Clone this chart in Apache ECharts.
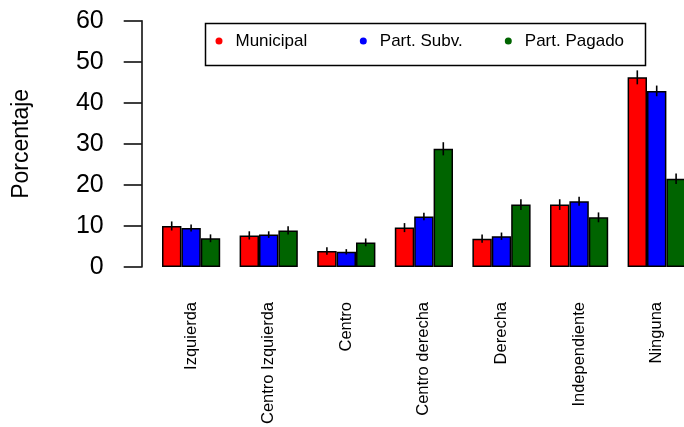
<!DOCTYPE html>
<html>
<head>
<meta charset="utf-8">
<script src="https://cdn.jsdelivr.net/npm/echarts@6/dist/echarts.min.js"></script>
<style>
  html, body { margin: 0; padding: 0; background: #fff; overflow: hidden; }
  /* wider than the window: the last bar is cut off at the right edge, as in the original */
  #chart { width: 700px; height: 427px; }
</style>
</head>
<body>
<div id="chart"></div>
<script>
// categories and values (percent)
var categories = ['Izquierda', 'Centro Izquierda', 'Centro', 'Centro derecha', 'Derecha', 'Independiente', 'Ninguna'];
var municipal = [10.0, 7.7, 3.9, 9.6, 6.9, 15.2, 46.2];
var partSubv = [9.5, 7.9, 3.7, 12.3, 7.5, 16.0, 42.9];
var partPagado = [7.0, 8.9, 6.0, 28.8, 15.2, 12.1, 21.5];
// half-length of the error bars
var errMunicipal = [1.1, 1.0, 0.9, 1.1, 1.0, 1.3, 1.7];
var errSubv = [0.85, 0.8, 0.65, 0.9, 0.9, 1.1, 1.3];
var errPagado = [0.95, 1.0, 0.95, 1.6, 1.3, 1.2, 1.3];
var yTicks = [0, 10, 20, 30, 40, 50, 60];

var FONT = 'Liberation Sans, Arial, Helvetica, sans-serif';
var names = ['Municipal', 'Part. Subv.', 'Part. Pagado'];
var colors = ['#ff0000', '#0000ff', '#006400'];
var legendLeft = [215.5, 359.8, 504.8];

function errData(vals, errs) {
  return vals.map(function (v, i) { return [i, v, errs[i]]; });
}
// draws one vertical error line, shifted to sit on its bar inside the group
function errRenderer(shift) {
  return function (params, api) {
    var idx = api.value(0), v = api.value(1), e = api.value(2);
    var c = api.coord([idx, v]);
    var band = api.size([1, 0])[0];
    var x = c[0] + shift * band * 0.25;
    var hi = api.coord([idx, v + e]);
    var lo = api.coord([idx, v - e]);
    return {
      type: 'line',
      shape: { x1: x, y1: hi[1], x2: x, y2: lo[1] },
      style: { stroke: '#000', lineWidth: 1.6 }
    };
  };
}

var chart = echarts.init(document.getElementById('chart'));
var barStyle = function (i) {
  return { color: colors[i], borderColor: '#000', borderWidth: 1.5 };
};

// one legend per entry so each sits where the original puts it
var legends = names.map(function (n, i) {
  return {
    data: [n],
    left: legendLeft[i], top: 32.5,
    padding: 0,
    icon: 'circle',
    itemWidth: 7, itemHeight: 7,
    itemStyle: { color: colors[i], borderWidth: 0 },
    textStyle: { fontFamily: FONT, fontSize: 17, color: '#000', padding: [0, 0, 0, 8] }
  };
});

chart.setOption({
  animation: false,
  textStyle: { fontFamily: FONT },
  grid: { left: 152.3, top: 20.7, width: 543.2, height: 247 },
  graphic: [{
    type: 'rect', left: 203, top: 21, z: 10,
    shape: { width: 440, height: 42 },
    style: { fill: 'none', stroke: '#000', lineWidth: 1.5 }
  }],
  legend: legends,
  xAxis: {
    type: 'category',
    data: categories,
    axisLine: { show: false },
    axisTick: { show: false },
    axisLabel: { rotate: 90, margin: 35, fontSize: 16.5, color: '#000', fontFamily: FONT, interval: 0 }
  },
  yAxis: {
    type: 'value',
    min: yTicks[0], max: yTicks[yTicks.length - 1], interval: 10,
    offset: 10.6,
    name: 'Porcentaje',
    nameLocation: 'middle',
    nameRotate: 90,
    nameGap: 109,
    nameTextStyle: { fontSize: 23, color: '#000', fontFamily: FONT },
    axisLine: { show: true, lineStyle: { color: '#000', width: 1.5 } },
    axisTick: { show: true, length: 18, lineStyle: { color: '#000', width: 1.5 } },
    axisLabel: { fontSize: 25, color: '#000', margin: 38, fontFamily: FONT },
    splitLine: { show: false }
  },
  series: [
    { name: names[0], type: 'bar', data: municipal, barGap: '0%', barCategoryGap: '25%', itemStyle: barStyle(0) },
    { name: names[1], type: 'bar', data: partSubv, barGap: '0%', barCategoryGap: '25%', itemStyle: barStyle(1) },
    { name: names[2], type: 'bar', data: partPagado, barGap: '0%', barCategoryGap: '25%', itemStyle: barStyle(2) },
    { name: 'errM', type: 'custom', renderItem: errRenderer(-1), data: errData(municipal, errMunicipal), encode: { x: 0, y: 1 }, z: 5 },
    { name: 'errS', type: 'custom', renderItem: errRenderer(0), data: errData(partSubv, errSubv), encode: { x: 0, y: 1 }, z: 5 },
    { name: 'errP', type: 'custom', renderItem: errRenderer(1), data: errData(partPagado, errPagado), encode: { x: 0, y: 1 }, z: 5 }
  ]
});
</script>
</body>
</html>
